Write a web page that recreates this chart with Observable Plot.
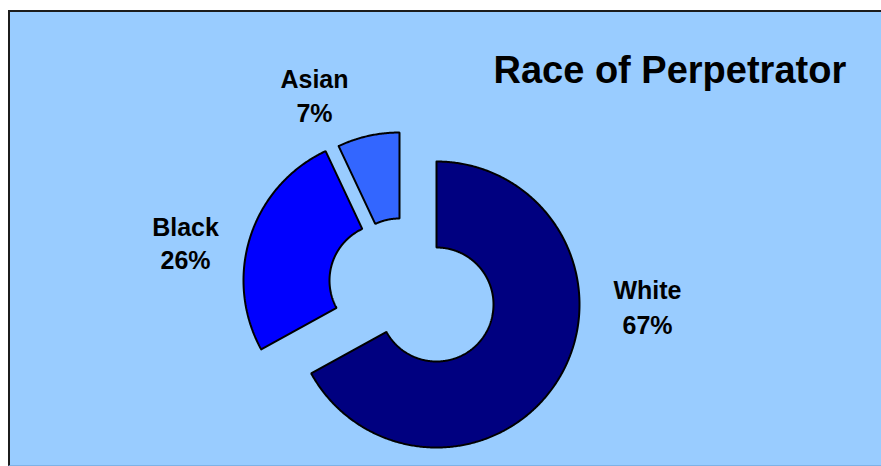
<!DOCTYPE html>
<html>
<head>
<meta charset="utf-8">
<script src="https://cdn.jsdelivr.net/npm/d3@7"></script>
<script src="https://cdn.jsdelivr.net/npm/@observablehq/plot@0.6"></script>
<style>
  html, body { margin: 0; padding: 0; background: #ffffff; }
  #wrap { position: relative; width: 881px; height: 466px; overflow: hidden; }
  #panel {
    position: absolute; left: 8px; top: 10px; width: 880px; height: 456px;
    box-sizing: border-box; background: #99CCFF;
    border-left: 2px solid #1c1c1c; border-top: 2px solid #1c1c1c;
    border-bottom: 1px solid #7fb2e6;
  }
  #chart { position: absolute; left: 0; top: 0; }
</style>
</head>
<body>
<div id="wrap"><div id="panel"></div><div id="chart"></div></div>
<script>
// ---- data ----
const categories = ["White", "Black", "Asian"];
const shares = [67, 26, 7];
const shareLabels = ["67%", "26%", "7%"];
const colors = ["#000080", "#0000FF", "#3366FF"];
const title = "Race of Perpetrator";

// ---- layout (positions / sizes) ----
const W = 881, H = 466;
const outerR = 143, innerR = 57;
const sliceCenter = { White: [436, 304], Black: [386, 280], Asian: [399, 275] };
const labelAt = { White: [647, 298, 333], Black: [185, 235, 268], Asian: [314, 87, 121] };
const font = "'Liberation Sans', Arial, Helvetica, sans-serif";

// build slice outlines from the values
const total = d3.sum(shares);
const pts = [];
let acc = 0;
categories.forEach((name, i) => {
  const a0 = acc / total * 2 * Math.PI;
  acc += shares[i];
  const a1 = acc / total * 2 * Math.PI;
  const [cx, cy] = sliceCenter[name];
  const n = Math.max(4, Math.ceil((a1 - a0) / (Math.PI / 360)));
  const ring = [];
  for (let k = 0; k <= n; k++) {
    const a = a0 + (a1 - a0) * k / n;
    ring.push([cx + outerR * Math.sin(a), cy - outerR * Math.cos(a)]);
  }
  for (let k = n; k >= 0; k--) {
    const a = a0 + (a1 - a0) * k / n;
    ring.push([cx + innerR * Math.sin(a), cy - innerR * Math.cos(a)]);
  }
  ring.push(ring[0]);
  ring.forEach(([x, y]) => pts.push({ name, x, y }));
});

const labelRows = categories.map((name, i) => ({
  name, pct: shareLabels[i],
  x: labelAt[name][0], y1: labelAt[name][1], y2: labelAt[name][2]
}));

const chart = Plot.plot({
  width: W, height: H,
  margin: 0,
  x: { domain: [0, W], range: [0, W], axis: null },
  y: { domain: [0, H], range: [0, H], axis: null },
  color: { domain: categories, range: colors },
  style: { background: "transparent", overflow: "visible" },
  marks: [
    Plot.line(pts, {
      x: "x", y: "y", z: "name", fill: "name",
      stroke: "#000000", strokeWidth: 2, strokeLinejoin: "miter",
      curve: "linear"
    }),
    Plot.text(labelRows, {
      x: "x", y: "y1", text: "name", lineAnchor: "bottom",
      fontSize: 25, fontWeight: "bold", fontFamily: font, fill: "#000000",
      letterSpacing: "0.6px"
    }),
    Plot.text(labelRows, {
      x: "x", y: "y2", text: "pct", lineAnchor: "bottom",
      fontSize: 25, fontWeight: "bold", fontFamily: font, fill: "#000000",
      letterSpacing: "0.6px"
    }),
    Plot.text([title], {
      x: 493, y: 82, text: d => d, textAnchor: "start", lineAnchor: "bottom",
      fontSize: 38, fontWeight: "bold", fontFamily: font, fill: "#000000"
    })
  ]
});
document.getElementById("chart").appendChild(chart);
</script>
</body>
</html>
